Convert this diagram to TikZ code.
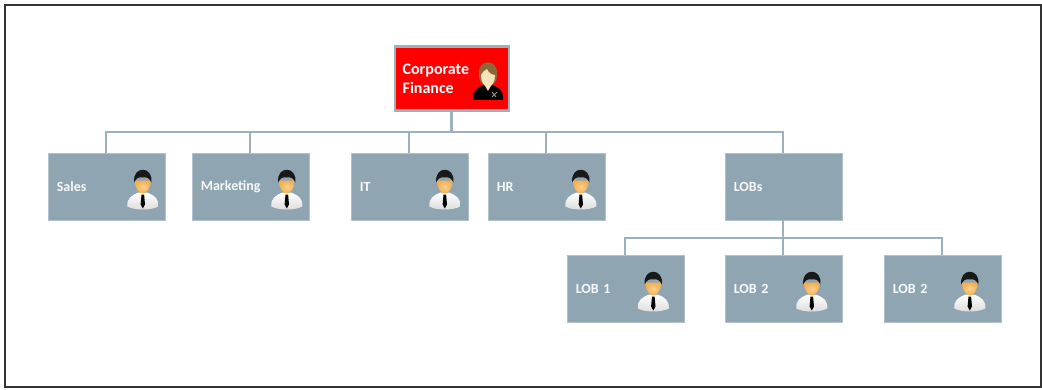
\documentclass[tikz,border=0pt]{standalone}
\usepackage{fontspec}
\setmainfont{Carlito}
\usetikzlibrary{positioning}
\definecolor{boxblue}{HTML}{8FA5B2}
\definecolor{linkblue}{HTML}{9DB1BC}
\definecolor{skin}{HTML}{F5B04A}
\definecolor{skinf}{HTML}{F8E2B8}
\definecolor{hairf}{HTML}{8A6A3A}
\tikzset{
  unit/.style={fill=boxblue,draw=boxblue!70!white,line width=0.4pt,minimum width=87.75pt,minimum height=50.25pt,
    inner xsep=6.75pt,inner ysep=0pt,text width=74.25pt,align=left,text=white!92!boxblue,font=\bfseries\fontsize{10.5}{12}\selectfont},
  head/.style={fill=red,draw=linkblue,line width=1.8pt,minimum width=85.5pt,minimum height=48pt,
    inner xsep=4.5pt,inner ysep=0pt,text width=74pt,align=left,text=white,font=\bfseries\fontsize{12}{14}\selectfont},
  link/.style={draw=linkblue,line width=1.6pt},
  man/.pic={
    % shoulders
    \shade[top color=white,bottom color=black!14] (-15.5,15) .. controls (-16,7) and (-12,4) .. (-4,1) -- (4,1)
      .. controls (12,4) and (16,7) .. (15.5,15) .. controls (8,19) and (-8,19) .. (-15.5,15) -- cycle;
    % tie
    \fill[black] (-1.3,3) -- (1.3,3) -- (2.2,13) -- (0,17) -- (-2.2,13) -- cycle;
    % face
    \shade[inner color=skin!60!white,outer color=skin] (-8,-11) .. controls (-8,-4) and (-4,2) .. (0,2) .. controls (4,2) and (8,-4) .. (8,-11) -- cycle;
    % hair
    \fill[black!90] (-8.5,-9) .. controls (-11,-26) and (11,-26) .. (8.5,-9)
      .. controls (7,-13) and (4,-15) .. (0,-14) .. controls (-4,-15) and (-7,-13) .. (-8.5,-9) -- cycle;
  },
  woman/.pic={
    % jacket
    \fill[black] (-15,18) .. controls (-15.5,9) and (-12,6) .. (-4,3) -- (4,3)
      .. controls (12,6) and (15.5,9) .. (15,18) -- cycle;
    % collar and badge
    \fill[skinf] (-3.5,3) -- (3.5,3) -- (0,9) -- cycle;
    \draw[black!35!skinf,line width=0.7pt] (4,15) -- (9,10) (4,10) -- (8,15);
    % hair at the back
    \fill[hairf] (-9,-7) .. controls (-11,-24) and (11,-24) .. (9,-7) .. controls (9,-3) and (8,0) .. (6,2)
      -- (-6,2) .. controls (-8,0) and (-9,-3) .. (-9,-7) -- cycle;
    % face
    \fill[skinf] (-7,-7) .. controls (-7,0) and (-4,5) .. (0,5) .. controls (4,5) and (7,0) .. (7,-7)
      .. controls (3,-7) and (0,-10) .. (-1,-13) .. controls (-3,-11) and (-6.5,-10) .. (-7,-7) -- cycle;
  }
}
\begin{document}
\begin{tikzpicture}[x=0.75pt,y=-0.75pt]
\useasboundingbox (0,0) rectangle (1042,389);
% Frame
\draw[black!80,line width=1.5pt] (5,5) rectangle (1040.5,387);
% Units
\node[head] (finance) at (452,78.5) {Corporate\\Finance};
\node[unit] (sales) at (106.3,186.5) {Sales};
\node[unit] (marketing) at (250.3,186.5) {Marketing};
\node[unit] (it) at (409.3,186.5) {IT};
\node[unit] (hr) at (546.3,186.5) {HR};
\node[unit] (lobs) at (783.3,186.5) {LOBs};
\node[unit] (lobone) at (625.3,288.5) {LOB 1};
\node[unit] (lobtwo) at (783.3,288.5) {LOB 2};
\node[unit] (lobthree) at (942.3,288.5) {LOB 2};
% Connectors
\coordinate (topbus) at (451.5,132);
\coordinate (lobbus) at (783.3,238);
\draw[link] (finance.south -| topbus) -- (topbus);
\foreach \target in {sales,marketing,it,hr,lobs}
  \draw[link] (topbus) -| (\target.north);
\draw[link] (lobs.south) -- (lobbus);
\foreach \target in {lobone,lobtwo,lobthree}
  \draw[link] (lobbus) -| (\target.north);
% People
\foreach \who/\off in {sales/36.5,marketing/36.5,it/35.5,hr/34.5,lobone/28,lobtwo/28.5,lobthree/27.5}
  \pic at ([xshift=\off*0.75pt,yshift=-3.75pt]\who.center) {man};
\pic at ([xshift=27pt,yshift=-2.6pt]finance.center) {woman};
\end{tikzpicture}
\end{document}
